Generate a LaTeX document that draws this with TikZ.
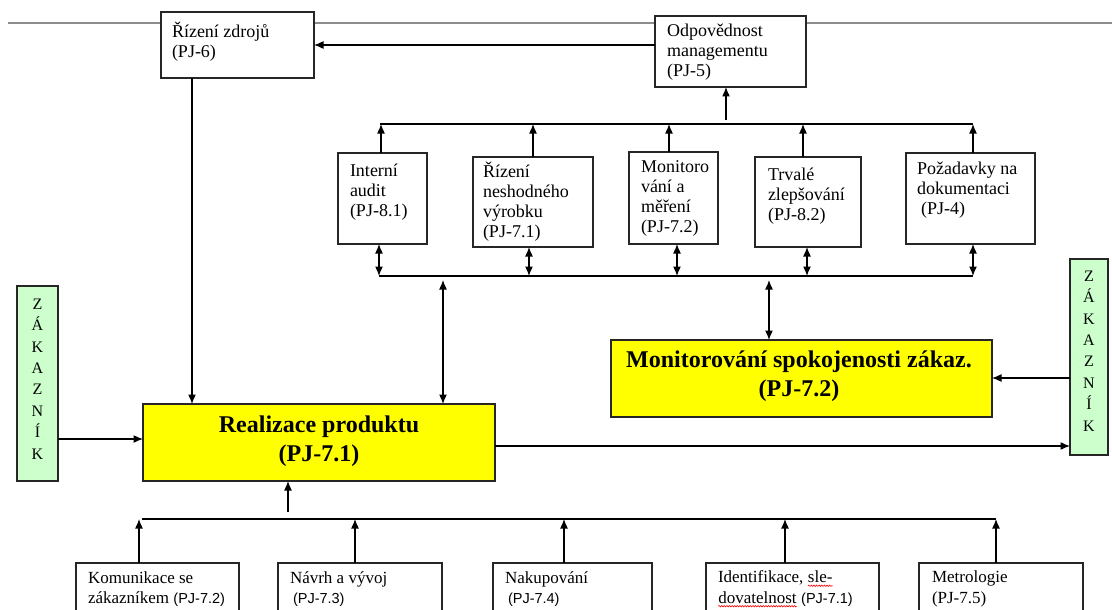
\documentclass[tikz,border=0pt]{standalone}
\usepackage{fontspec}
\setmainfont{Liberation Serif}
\newfontfamily\sansfam{Liberation Sans}
\usetikzlibrary{arrows.meta,decorations.pathmorphing}
\newcommand\sa[1]{{\sansfam\fontsize{14.5}{20.5}\selectfont #1}}
\newcommand\wavy[1]{\tikz[baseline=(w.base)]{\node[inner sep=0pt,outer sep=0pt,anchor=base] (w) {#1};\draw[red,line width=0.6pt,decorate,decoration={snake,amplitude=0.7pt,segment length=2.6pt}] ([yshift=-3pt]w.base west) -- ([yshift=-3pt]w.base east);}}
\begin{document}
\begin{tikzpicture}[x=1pt,y=-1pt,
  box/.style={draw=black!85,line width=1.1pt,fill=white,inner sep=0pt,outer sep=0pt},
  ybox/.style={box,fill={rgb,255:red,255;green,255;blue,0}},
  gbox/.style={box,fill={rgb,255:red,204;green,255;blue,204}},
  txt/.style={inner sep=0pt,outer sep=0pt,align=left,anchor=west,font=\fontsize{18}{20}\selectfont},
  btxt/.style={txt,font=\fontsize{17}{20.5}\selectfont},
  big/.style={inner sep=0pt,align=center,font=\fontsize{24}{29}\selectfont\bfseries},
  zak/.style={inner sep=0pt,align=center,font=\fontsize{16}{21.4}\selectfont},
  conn/.style={line width=1.2pt,black},
  tip/.tip={Latex[length=9.5pt,width=8pt]},
  arr/.style={conn,-tip},
  darr/.style={conn,tip-tip},
  topline/.style={line width=1.8pt,black!45}
]
\useasboundingbox (0,0) rectangle (1112,610);
% top gray line
\coordinate (gl) at (8,23);
\coordinate (gr) at (1112,23);
\draw[topline] (gl) -- (gr);

% boxes
\node[box,minimum width=153,minimum height=66] (rz) at (237.5,45) {};
\node[box,minimum width=151,minimum height=71] (odp) at (730.5,51.5) {};
\node[box,minimum width=89,minimum height=91] (ia) at (382.5,198.5) {};
\node[box,minimum width=120,minimum height=90] (nv) at (533,202) {};
\node[box,minimum width=89,minimum height=92] (mm) at (673.5,198) {};
\node[box,minimum width=106,minimum height=90] (tz) at (808,202) {};
\node[box,minimum width=129,minimum height=91] (pd) at (970.5,198.5) {};
\node[ybox,minimum width=352,minimum height=77] (real) at (319,442.5) {};
\node[ybox,minimum width=381,minimum height=77] (mon) at (801.5,378.5) {};
\node[gbox,minimum width=41,minimum height=195] (zl) at (37.5,383.5) {};
\node[gbox,minimum width=38,minimum height=196] (zr) at (1089,357) {};
\node[box,minimum width=163,minimum height=62] (kom) at (157.5,594) {};
\node[box,minimum width=164,minimum height=62] (nav) at (360,594) {};
\node[box,minimum width=159,minimum height=62] (nak) at (572.5,594) {};
\node[box,minimum width=173,minimum height=62] (idf) at (792.5,594) {};
\node[box,minimum width=164,minimum height=62] (met) at (1001,594) {};

% texts
\node[txt] (rzt) at (172,42) {Řízení zdrojů\\(PJ-6)};
\node[txt] (odpt) at (667,52) {Odpovědnost\\managementu\\(PJ-5)};
\node[txt] (iat) at (350,192) {Interní\\audit\\(PJ-8.1)};
\node[txt] (nvt) at (483,202) {Řízení\\neshodného\\výrobku\\(PJ-7.1)};
\node[txt] (mmt) at (641,198) {Monitoro\\vání a\\měření\\(PJ-7.2)};
\node[txt] (tzt) at (768,196) {Trvalé\\zlepšování\\(PJ-8.2)};
\node[txt] (pdt) at (917,190) {Požadavky na\\dokumentaci\\\hspace{4pt}(PJ-4)};
\node[big] (realt) at (319,441) {Realizace produktu\\(PJ-7.1)};
\node[big] (mont) at (799,376.5) {Monitorování spokojenosti zákaz.\\(PJ-7.2)};
\node[zak] (zlt) at (37.5,379) {Z\\Á\\K\\A\\Z\\N\\Í\\K};
\node[zak] (zrt) at (1089,351) {Z\\Á\\K\\A\\Z\\N\\Í\\K};
\node[btxt] (komt) at (88,589) {Komunikace se\\zákazníkem \sa{(PJ-7.2)}};
\node[btxt] (navt) at (290,589) {Návrh a vývoj\\\hspace{3pt}\sa{(PJ-7.3)}};
\node[btxt] (nakt) at (505,589) {Nakupování\\\hspace{3pt}\sa{(PJ-7.4)}};
\node[btxt] (idft) at (718,589) {Identifikace, \wavy{sle-}\\\wavy{dovatelnost} \sa{(PJ-7.1)}};
\node[btxt] (mett) at (932,589) {Metrologie\\(PJ-7.5)};

% management connectors
\path ([yshift=6.5pt]odp.west) coordinate (o1);
\draw[arr] (o1) -- (o1 -| rz.east);
\coordinate (o2) at (726,120);
\draw[arr] (o2) -- (o2 |- odp.south);
\path ([xshift=-45.5pt]rz.south) coordinate (rzd);
\draw[arr] (rzd) -- (rzd |- real.north);

% upper bus
\coordinate (tl) at (380,124);
\coordinate (tr) at (973,124);
\draw[conn] (tl) -- (tr);
\path ([xshift=-1.5pt]ia.north) coordinate (ia-u);
\path (nv.north) coordinate (nv-u);
\path ([xshift=-4.5pt]mm.north) coordinate (mm-u);
\path ([xshift=-5pt]tz.north) coordinate (tz-u);
\path ([xshift=2.5pt]pd.north) coordinate (pd-u);
\foreach \c in {ia-u,nv-u,mm-u,tz-u,pd-u} \draw[arr] (\c) -- (\c |- tl);

% lower bus
\coordinate (bl) at (379,276);
\coordinate (br) at (973,276);
\draw[conn] (bl) -- (br);
\path ([xshift=-3.5pt]ia.south) coordinate (ia-d);
\path ([xshift=-4pt]nv.south) coordinate (nv-d);
\path ([xshift=3.5pt]mm.south) coordinate (mm-d);
\path ([xshift=-1pt]tz.south) coordinate (tz-d);
\path ([xshift=2.5pt]pd.south) coordinate (pd-d);
\foreach \c in {ia-d,nv-d,mm-d,tz-d,pd-d} \draw[darr] (\c) -- (\c |- bl);
\coordinate (r1) at (443,280);
\draw[darr] (r1) -- (r1 |- real.north);
\coordinate (m1) at (769,280);
\draw[darr] (m1) -- (m1 |- mon.north);

% customers
\path ([yshift=-55.5pt]zl.east) coordinate (zl1);
\draw[arr] (zl1) -- (zl1 -| real.west);
\path ([yshift=-3.5pt]real.east) coordinate (re1);
\draw[arr] (re1) -- (re1 -| zr.west);
\path ([yshift=-21pt]zr.west) coordinate (zr1);
\draw[arr] (zr1) -- (zr1 -| mon.east);

% bottom bus
\coordinate (rb) at (288,512);
\draw[arr] (rb) -- (rb |- real.south);
\coordinate (bbl) at (142,519);
\coordinate (bbr) at (996,519);
\draw[conn] (bbl) -- (bbr);
\path ([xshift=-18.5pt]kom.north) coordinate (kom-u);
\path ([xshift=-5pt]nav.north) coordinate (nav-u);
\path ([xshift=-8.5pt]nak.north) coordinate (nak-u);
\path ([xshift=-7.5pt]idf.north) coordinate (idf-u);
\path ([xshift=-5pt]met.north) coordinate (met-u);
\foreach \c in {kom-u,nav-u,nak-u,idf-u,met-u} \draw[arr] (\c) -- (\c |- bbl);
\end{tikzpicture}
\end{document}
